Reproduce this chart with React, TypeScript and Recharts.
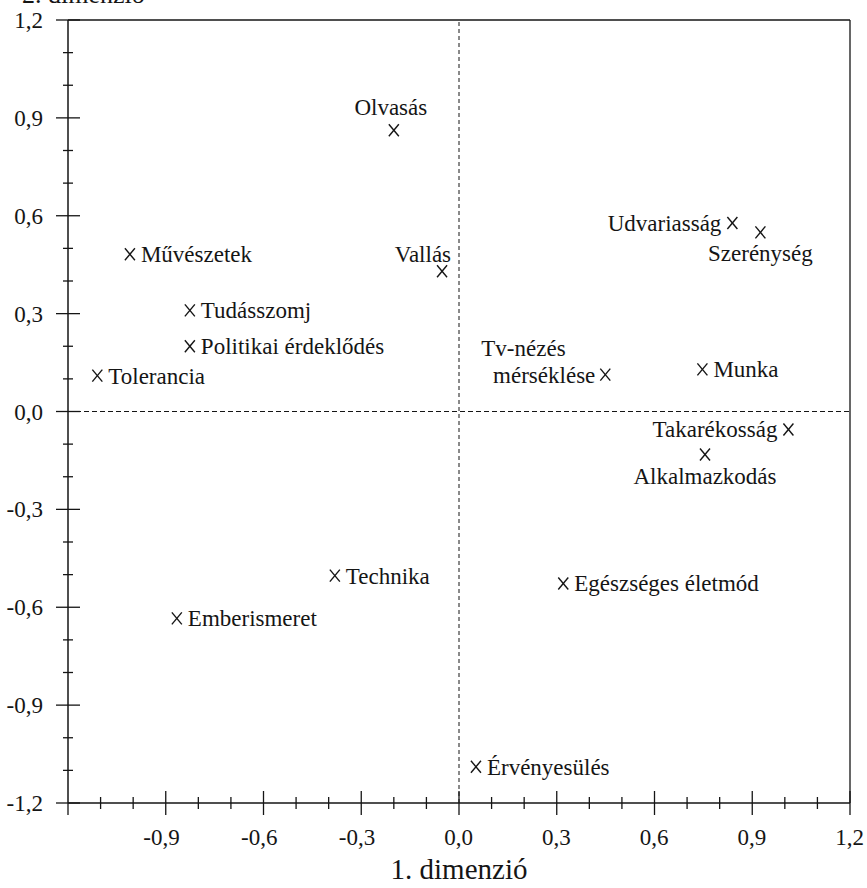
import React from "react";
import {
  ScatterChart,
  Scatter,
  XAxis,
  YAxis,
  ReferenceLine,
} from "recharts";

// ---- data ----
const NAMES = [
  "Olvasás",
  "Művészetek",
  "Vallás",
  "Tudásszomj",
  "Politikai érdeklődés",
  "Tolerancia",
  "Udvariasság",
  "Szerénység",
  "Tv-nézés mérséklése",
  "Munka",
  "Takarékosság",
  "Alkalmazkodás",
  "Technika",
  "Egészséges életmód",
  "Emberismeret",
  "Érvényesülés",
];
const DIM1 = [
  -0.2, -1.01, -0.052, -0.826, -0.826, -1.11, 0.839, 0.925, 0.449, 0.747, 1.011,
  0.755, -0.381, 0.32, -0.866, 0.052,
];
const DIM2 = [
  0.862, 0.482, 0.43, 0.31, 0.2, 0.11, 0.578, 0.549, 0.113, 0.129, -0.055,
  -0.132, -0.503, -0.527, -0.634, -1.089,
];
const AXIS_TICKS = [
  -1.2, -1.1, -1.0, -0.9, -0.8, -0.7, -0.6, -0.5, -0.4, -0.3, -0.2, -0.1, 0.0,
  0.1, 0.2, 0.3, 0.4, 0.5, 0.6, 0.7, 0.8, 0.9, 1.0, 1.1, 1.2,
];
const X_TITLE = "1. dimenzió";
const Y_TITLE = "2. dimenzió";

// ---- layout config (not data) ----
type Place = "right" | "left" | "above" | "aboveLeft" | "below" | "stackLeft";
const PLACEMENT: Record<string, Place> = {
  "Olvasás": "above",
  "Vallás": "aboveLeft",
  "Udvariasság": "left",
  "Szerénység": "below",
  "Tv-nézés mérséklése": "stackLeft",
  "Takarékosság": "left",
  "Alkalmazkodás": "below",
};

const FONT = "'Liberation Serif', 'Times New Roman', serif";
const INK = "#151515";
const LABEL_SIZE = 23;
const TICK_SIZE = 23;

const points = NAMES.map((name, i) => ({ name, x: DIM1[i], y: DIM2[i] }));

const isMajor = (v: number) => Math.abs(Math.round(v * 10)) % 3 === 0;
const fmt = (v: number) => v.toFixed(1).replace(".", ",");

const XTick = (props: any) => {
  const { x, y, payload } = props;
  const v = payload.value as number;
  const major = isMajor(v);
  const len = major ? 12 : 6;
  return (
    <g>
      <line x1={x} x2={x} y1={v <= -1.15 ? y : y - len} y2={y + len} stroke={INK} strokeWidth={1.3} />
      {major && v > -1.15 && (
        <text
          x={x + 14}
          y={y + 42}
          textAnchor="end"
          fontFamily={FONT}
          fontSize={TICK_SIZE}
          fill={INK}
        >
          {fmt(v)}
        </text>
      )}
    </g>
  );
};

const YTick = (props: any) => {
  const { x, y, payload } = props;
  const v = payload.value as number;
  const major = isMajor(v);
  const len = major ? 12 : 5;
  return (
    <g>
      <line x1={x - len} x2={x + len} y1={y} y2={y} stroke={INK} strokeWidth={1.3} />
      {major && (
        <text
          x={x - 25}
          y={y}
          dy="0.35em"
          textAnchor="end"
          fontFamily={FONT}
          fontSize={TICK_SIZE}
          fill={INK}
        >
          {fmt(v)}
        </text>
      )}
    </g>
  );
};

const Marker = (props: any) => {
  const { cx, cy, payload } = props;
  if (cx == null || cy == null) return null;
  const name: string = payload.name;
  const place: Place = PLACEMENT[name] || "right";
  const t = {
    fontFamily: FONT,
    fontSize: LABEL_SIZE,
    fill: INK,
  };
  let label: React.ReactNode = null;
  if (place === "right") {
    label = (
      <text x={cx + 11} y={cy} dy="0.35em" textAnchor="start" {...t}>
        {name}
      </text>
    );
  } else if (place === "left") {
    label = (
      <text x={cx - 11} y={cy} dy="0.35em" textAnchor="end" {...t}>
        {name}
      </text>
    );
  } else if (place === "above") {
    label = (
      <text x={cx - 3} y={cy - 15} textAnchor="middle" {...t}>
        {name}
      </text>
    );
  } else if (place === "aboveLeft") {
    label = (
      <text x={cx + 9} y={cy - 9} textAnchor="end" {...t}>
        {name}
      </text>
    );
  } else if (place === "below") {
    label = (
      <text x={cx} y={cy + 29} textAnchor="middle" {...t}>
        {name}
      </text>
    );
  } else if (place === "stackLeft") {
    const parts = name.split(" ");
    label = (
      <g>
        <text x={cx - 124} y={cy - 19} textAnchor="start" {...t}>
          {parts[0]}
        </text>
        <text x={cx - 10} y={cy} dy="0.35em" textAnchor="end" {...t}>
          {parts.slice(1).join(" ")}
        </text>
      </g>
    );
  }
  return (
    <g>
      <line x1={cx - 5} y1={cy - 6} x2={cx + 5} y2={cy + 6} stroke={INK} strokeWidth={1.4} />
      <line x1={cx + 5} y1={cy - 6} x2={cx - 5} y2={cy + 6} stroke={INK} strokeWidth={1.4} />
      {label}
    </g>
  );
};

export default function App() {
  return (
    <div
      style={{
        position: "absolute",
        left: 0,
        top: 0,
        width: 867,
        height: 888,
        background: "#ffffff",
        overflow: "hidden",
      }}
    >
      <ScatterChart
        width={867}
        height={888}
        margin={{ top: 20, right: 17, bottom: 84, left: 67 }}
      >
        <XAxis
          type="number"
          dataKey="x"
          domain={[-1.2, 1.2]}
          ticks={AXIS_TICKS}
          interval={0}
          height={1}
          tickSize={0}
          tickMargin={0}
          tickLine={false}
          tick={<XTick />}
          axisLine={{ stroke: INK, strokeWidth: 1.5 }}
          allowDataOverflow
        />
        <YAxis
          type="number"
          dataKey="y"
          domain={[-1.2, 1.2]}
          ticks={AXIS_TICKS}
          interval={0}
          width={1}
          tickSize={0}
          tickMargin={0}
          tickLine={false}
          tick={<YTick />}
          axisLine={{ stroke: INK, strokeWidth: 1.5 }}
          allowDataOverflow
        />
        <ReferenceLine x={0} stroke={INK} strokeWidth={1} strokeDasharray="4 3" />
        <ReferenceLine y={0} stroke={INK} strokeWidth={1} strokeDasharray="5 3" />
        <ReferenceLine x={1.2} stroke={INK} strokeWidth={1.3} />
        <ReferenceLine y={1.2} stroke={INK} strokeWidth={1.5} />
        <Scatter
          data={points}
          shape={<Marker />}
          isAnimationActive={false}
        />
        <text
          x={459}
          y={879}
          textAnchor="middle"
          fontFamily={FONT}
          fontSize={29}
          fill={INK}
        >
          {X_TITLE}
        </text>
        <text
          x={22}
          y={3}
          textAnchor="start"
          fontFamily={FONT}
          fontSize={26}
          fill={INK}
        >
          {Y_TITLE}
        </text>
      </ScatterChart>
    </div>
  );
}
